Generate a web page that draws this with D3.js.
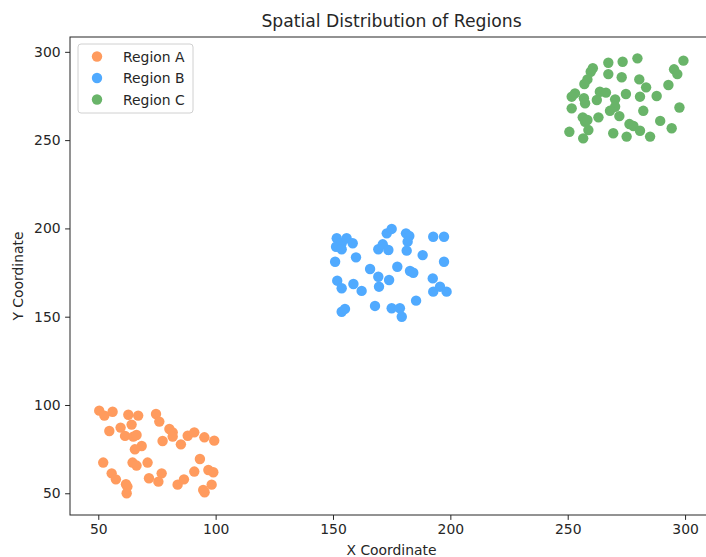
<!DOCTYPE html>
<html><head><meta charset="utf-8">
<script src="https://cdn.jsdelivr.net/npm/d3@7"></script>
<style>body{margin:0;background:#fff}svg{display:block}text{font-family:"DejaVu Sans",sans-serif;fill:#262626}</style>
</head><body><svg id="c" width="706" height="557"></svg>
<script>
const title = "Spatial Distribution of Regions";
const xLabel = "X Coordinate";
const yLabel = "Y Coordinate";
const regions = ["Region A", "Region B", "Region C"];
const colors = ["#ff9b5e", "#50aaff", "#69b469"];
const xTicks = [50, 100, 150, 200, 250, 300];
const yTicks = [50, 100, 150, 200, 250, 300];

const regionAx = [50.4,52.6,56.1,62.8,67.0,64.2,59.5,54.7,61.4,64.9,66.3,74.6,76.0,80.3,81.7,81.7,77.4,85.2,88.1,90.9,95.2,99.4,68.5,65.6,52.1,64.6,66.3,71.0,93.3,55.7,57.5,61.8,62.4,62.1,71.6,77.0,75.6,83.8,86.5,90.9,96.9,99.0,98.3,94.7,95.3];
const regionAy = [96.8,94.0,96.2,94.5,94.0,88.9,87.2,85.3,82.5,82.1,83.0,94.9,90.6,86.4,84.5,82.1,79.6,77.7,82.6,84.5,81.7,79.8,76.8,74.9,67.4,67.4,65.7,67.4,69.4,61.3,57.9,55.1,53.8,50.0,58.5,61.3,56.6,54.9,57.9,62.3,63.2,61.9,54.9,51.9,50.6];
const regionBx = [151.6,151.3,153.7,155.8,158.4,153.7,150.9,159.8,151.8,153.7,158.7,162.2,153.7,155.1,165.8,169.3,169.6,173.9,167.9,175.0,178.5,179.3,185.4,177.4,182.8,184.2,169.3,171.2,173.6,172.9,175.0,181.1,182.5,181.8,181.4,188.2,192.7,197.3,197.3,192.5,192.7,195.6,198.4];
const regionBy = [194.4,189.6,191.6,194.4,191.6,188.2,181.1,183.6,170.4,166.1,168.5,164.6,152.8,154.4,177.0,172.6,167.0,170.8,156.1,154.8,154.8,150.0,159.1,178.3,175.9,174.9,188.2,191.0,187.8,197.2,199.7,197.2,195.7,192.5,187.4,184.9,195.3,195.3,181.1,171.7,164.2,167.0,164.2];
const regionCx = [260.7,259.8,267.3,273.4,279.7,299.3,295.3,296.7,267.3,273.0,258.4,257.1,280.5,283.4,292.9,287.9,280.8,274.8,263.7,266.3,253.1,251.7,256.9,257.4,262.4,270.2,270.2,251.7,268.0,272.0,282.2,297.6,256.4,257.4,258.4,263.1,276.3,278.0,289.4,294.3,250.7,258.8,256.6,269.4,275.1,280.8,285.1];
const regionCy = [290.7,288.7,293.8,294.4,296.3,295.0,290.1,287.4,287.4,285.6,284.4,281.8,284.4,279.9,281.2,275.0,274.6,276.1,277.4,276.9,276.5,274.6,273.7,270.9,272.7,273.1,268.9,268.0,266.6,263.6,266.6,268.5,262.9,260.4,261.4,262.9,259.1,258.0,260.9,256.7,254.7,255.7,251.0,253.9,252.0,255.3,252.0];

const seriesX = [regionAx, regionBx, regionCx];
const seriesY = [regionAy, regionBy, regionCy];

const L = 70, R = 713, T = 37, B = 515;
const svg = d3.select("#c");
const x = d3.scaleLinear().domain([37.95, 311.9]).range([L, R]);
const y = d3.scaleLinear().domain([37.7, 308.4]).range([B, T]);

// points
regions.forEach((name, i) => {
  const pts = seriesX[i].map((v, j) => [v, seriesY[i][j]]);
  svg.append("g").selectAll("circle").data(pts).join("circle")
    .attr("cx", d => x(d[0])).attr("cy", d => y(d[1])).attr("r", 5.2)
    .attr("fill", colors[i]);
});

// axes
const xAxis = svg.append("g").attr("transform", `translate(0,${B})`)
  .call(d3.axisBottom(x).tickValues(xTicks).tickSize(4.9).tickPadding(4.5).tickSizeOuter(0));
const yAxis = svg.append("g").attr("transform", `translate(${L},0)`)
  .call(d3.axisLeft(y).tickValues(yTicks).tickSize(4.9).tickPadding(4.5).tickSizeOuter(0));
[xAxis, yAxis].forEach(a => {
  a.select(".domain").remove();
  a.selectAll("line").attr("stroke", "#262626").attr("stroke-width", 1);
  a.selectAll("text").attr("font-size", 13.9).attr("font-family", "DejaVu Sans").attr("fill", "#262626");
});
// frame
svg.append("rect").attr("x", L).attr("y", T).attr("width", R - L).attr("height", B - T)
  .attr("fill", "none").attr("stroke", "#262626").attr("stroke-width", 1);

// labels
svg.append("text").attr("x", (L + R) / 2).attr("y", 27).attr("text-anchor", "middle")
  .attr("font-size", 17.2).text(title);
svg.append("text").attr("x", (L + R) / 2).attr("y", 555).attr("text-anchor", "middle")
  .attr("font-size", 13.9).text(xLabel);
svg.append("text").attr("transform", `translate(23,${(T + B) / 2}) rotate(-90)`)
  .attr("text-anchor", "middle").attr("font-size", 13.9).text(yLabel);

// legend
const lg = svg.append("g");
lg.append("rect").attr("x", 78).attr("y", 44).attr("width", 115).attr("height", 69).attr("rx", 3)
  .attr("fill", "#fff").attr("fill-opacity", 0.8).attr("stroke", "#d0d0d0");
regions.forEach((name, i) => {
  const cy = 56.5 + i * 21.5;
  lg.append("circle").attr("cx", 97).attr("cy", cy).attr("r", 5.2).attr("fill", colors[i]);
  lg.append("text").attr("x", 123).attr("y", cy + 5).attr("font-size", 13.9).text(name);
});
</script></body></html>
